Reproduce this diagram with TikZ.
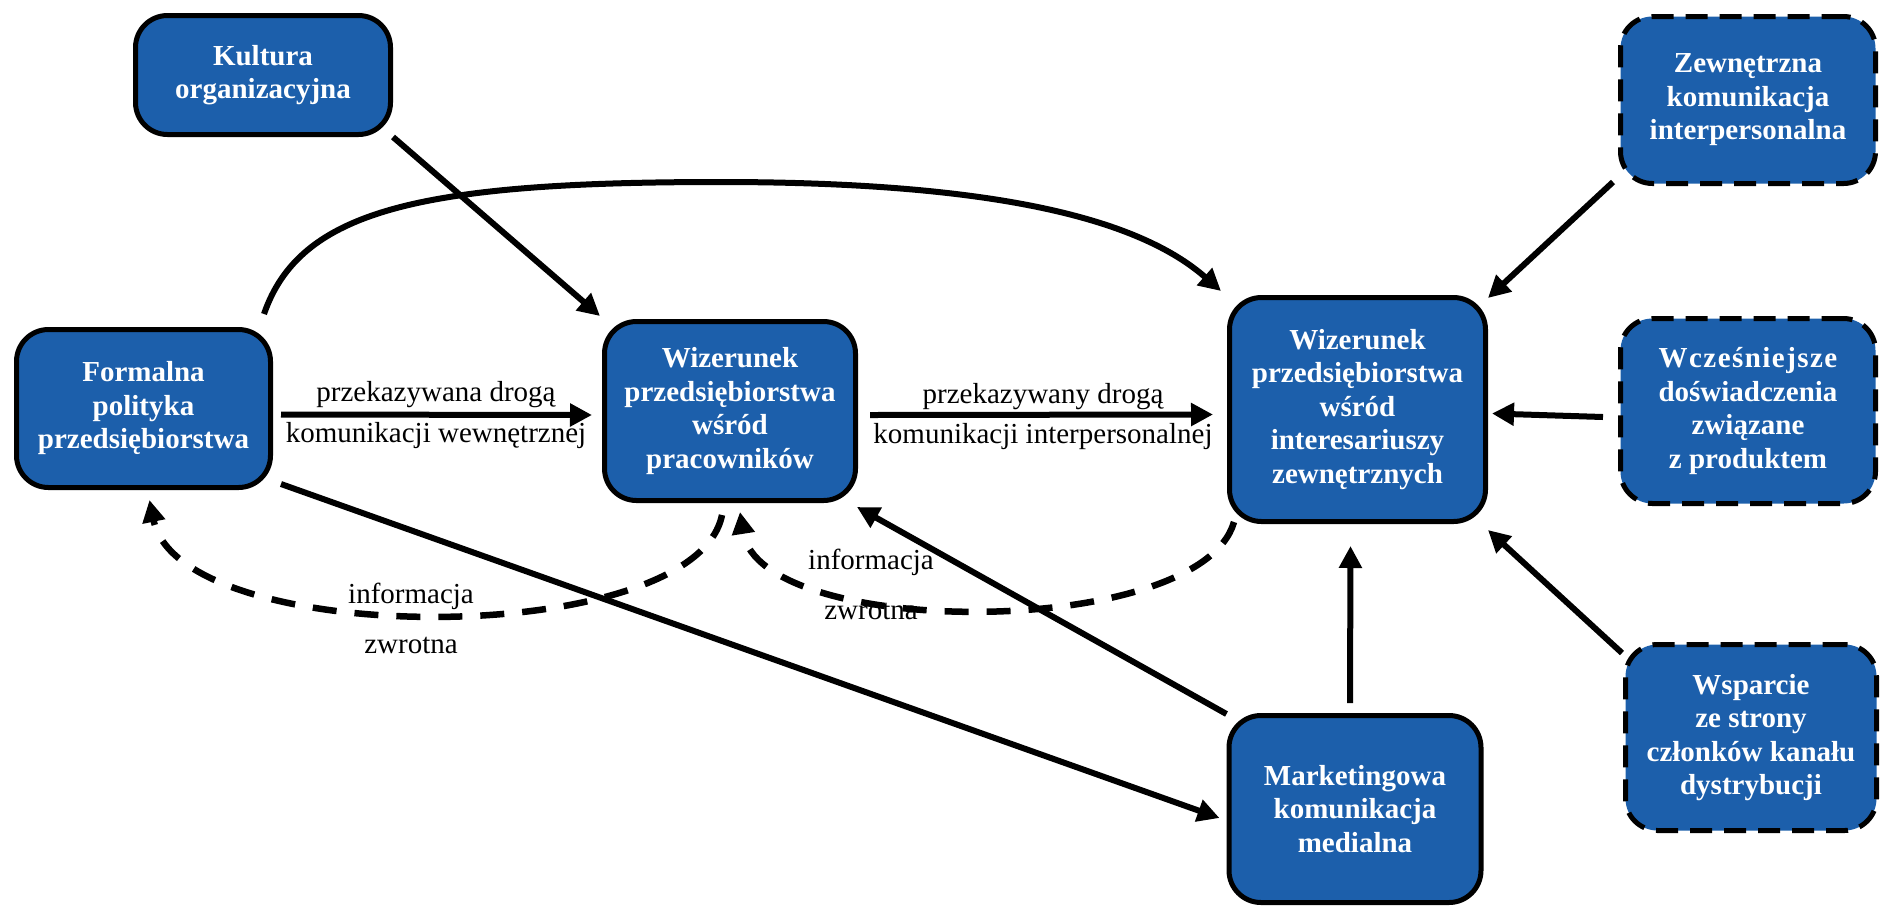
\documentclass[tikz,border=0pt]{standalone}
\usepackage{fontspec}
\setmainfont{Liberation Serif}
\usetikzlibrary{arrows.meta,calc}
\definecolor{boxblue}{RGB}{28,95,171}
\begin{document}
\begin{tikzpicture}[x=0.5pt,y=-0.5pt,
  box/.style={draw=black, line width=2.5pt, fill=boxblue, rounded corners=16pt,
    text=white, font=\bfseries\fontsize{14.5}{16.75}\selectfont, align=center, inner sep=0pt},
  extbox/.style={box, dash pattern=on 11pt off 6pt},
  lbl/.style={font=\fontsize{14.5}{17}\selectfont, inner sep=0pt, anchor=base},
  arr/.style={-{Triangle[length=11pt,width=11pt]}, line width=3pt},
  darr/.style={arr, dash pattern=on 12pt off 9pt, line width=3.25pt}]
\useasboundingbox (0,0) rectangle (1881,907);

% boxes
\node[box, minimum width=127.5pt, minimum height=59.5pt] (kultura) at (263,75) {Kultura\\organizacyjna};
\node[box, minimum width=127pt, minimum height=79pt] (formalna) at (143.5,408.5) {Formalna\\polityka\\przedsiębiorstwa};
\node[box, minimum width=125.5pt, minimum height=89.5pt] (wprac) at (730,411) {Wizerunek\\przedsiębiorstwa\\wśród\\pracowników};
\node[box, minimum width=128pt, minimum height=112pt] (winter) at (1357.5,409.5) {Wizerunek\\przedsiębiorstwa\\wśród\\interesariuszy\\zewnętrznych};
\node[box, minimum width=126pt, minimum height=93.5pt] (mark) at (1355,809) {Marketingowa\\komunikacja\\medialna};
\node[extbox, minimum width=127.5pt, minimum height=83.5pt] (zew) at (1748,100) {Zewnętrzna\\komunikacja\\interpersonalna};
\node[extbox, minimum width=127.5pt, minimum height=92.5pt] (wcz) at (1748,411) {{\addfontfeature{LetterSpace=5}Wcześniejsze}\\doświadczenia\\związane\\z produktem};
\node[extbox, minimum width=125.5pt, minimum height=93pt] (wsp) at (1751,737.5) {Wsparcie\\ze strony\\członków kanału\\dystrybucji};

% solid connectors
\draw[arr] ($(formalna.east)+(8,6)$) -- ($(wprac.west)+(-10,4)$);
\draw[arr] ($(wprac.east)+(12,4)$) -- ($(winter.west)+(-14,5)$);
\draw[arr] (kultura.south east) -- ($(wprac.north west)+(-2,-3)$);
\coordinate (peak) at (720,182);
\draw[arr] ($(formalna.north east)+(-9,-13)$) .. controls (300,210) and (420,182) .. (peak)
  .. controls (1000,182) and (1140,220) .. ($(winter.north west)+(-6,-4)$);
\draw[arr] ($(formalna.south east)+(8,-6)$) -- ($(mark.west)+(-7,9)$);
\draw[arr] ($(mark.north west)+(0,1)$) -- ($(wprac.south east)+(-1,4)$);
\draw[arr] ($(mark.north)+(-5,-10)$) -- ($(winter.south)+(-7,22)$);
\draw[arr] ($(zew.south west)+(-5,-4)$) -- ($(winter.north east)+(0,3)$);
\draw[arr] ($(wcz.west)+(-15,6)$) -- ($(winter.east)+(4,4)$);
\draw[arr] ($(wsp.north west)+(-1,11)$) -- ($(winter.south east)+(0,6)$);

% feedback loops
\draw[darr] ($(wprac.south)+(-8,12)$) .. controls (695,650) and (180,650) .. ($(formalna.south)+(6,10)$);
\draw[darr] ($(winter.south west)+(7,-2)$) .. controls (1200,640) and (760,640) .. ($(wprac.south)+(10,9)$);

% labels
\node[lbl] (l1a) at (436,401) {przekazywana drogą};
\node[lbl] (l1b) at (436,442) {komunikacji wewnętrznej};
\node[lbl] (l2a) at (1043,403) {przekazywany drogą};
\node[lbl] (l2b) at (1043,443) {komunikacji interpersonalnej};
\node[lbl] (f1a) at (411,603) {informacja};
\node[lbl] (f1b) at (411,653) {zwrotna};
\node[lbl] (f2a) at (871,569) {informacja};
\node[lbl] (f2b) at (871,619) {zwrotna};
\end{tikzpicture}
\end{document}
